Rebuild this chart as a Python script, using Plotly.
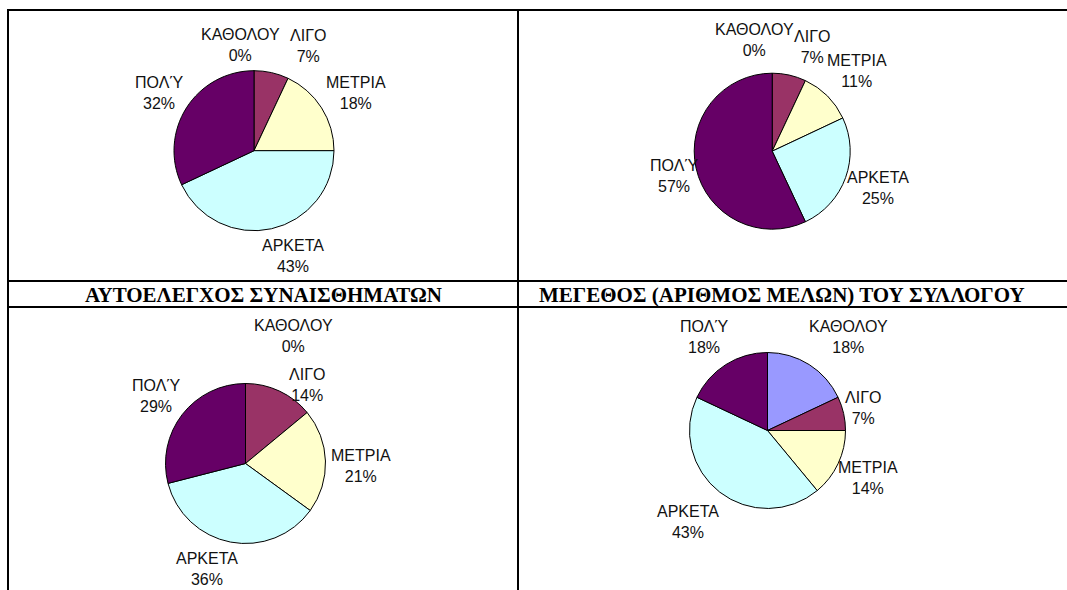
import plotly.graph_objects as go

W, H = 1067, 590

# Response categories (clockwise from 12 o'clock) and slice colours
categories = ["ΚΑΘΟΛΟΥ", "ΛΙΓΟ", "ΜΕΤΡΙΑ", "ΑΡΚΕΤΑ", "ΠΟΛΎ"]
colors = ["#9999FF", "#993366", "#FFFFCC", "#CCFFFF", "#660066"]

# Percentages for each of the four questions
values_top_left = [0, 7, 18, 43, 32]
values_top_right = [0, 7, 11, 25, 57]
values_bottom_left = [0, 14, 21, 36, 29]
values_bottom_right = [18, 7, 14, 43, 18]

# Column headings of the lower table row
heading_left = "ΑΥΤΟΕΛΕΓΧΟΣ ΣΥΝΑΙΣΘΗΜΑΤΩΝ"
heading_right = "ΜΕΓΕΘΟΣ (ΑΡΙΘΜΟΣ ΜΕΛΩΝ) ΤΟΥ ΣΥΛΛΟΓΟΥ"

# Layout of each pie: centre (px), radius (px), label centres (px) per category
pies = [
    dict(values=values_top_left, c=(254, 150.7), r=80,
         labels=[(240, 44.7), (308, 45.5), (356, 93.3), (293.3, 256), (159, 93.3)]),
    dict(values=values_top_right, c=(772.2, 151.2), r=78,
         labels=[(754.7, 40), (811.7, 47), (856.7, 71.2), (877.5, 188.3), (674.2, 176)]),
    dict(values=values_bottom_left, c=(245.5, 463.5), r=80,
         labels=[(293, 335.7), (307, 385), (361, 466), (207, 568.7), (155.5, 396.3)]),
    dict(values=values_bottom_right, c=(767.5, 430.5), r=78,
         labels=[(848.3, 336.7), (862.8, 408.3), (868.3, 478), (688.3, 522.3), (703.8, 336.7)]),
]


def px(x):
    return x / W


def py(y):
    return 1 - y / H


fig = go.Figure()
annotations = []

for p in pies:
    cx, cy = p["c"]
    r = p["r"]
    fig.add_trace(go.Pie(
        labels=categories,
        values=p["values"],
        sort=False,
        direction="clockwise",
        rotation=0,
        marker=dict(colors=colors, line=dict(color="black", width=1)),
        textinfo="none",
        hoverinfo="label+percent",
        showlegend=False,
        domain=dict(x=[px(cx - r), px(cx + r)], y=[py(cy + r), py(cy - r)]),
    ))
    for cat, val, (lx, ly) in zip(categories, p["values"], p["labels"]):
        annotations.append(dict(
            x=px(lx), y=py(ly), xref="paper", yref="paper",
            xanchor="center", yanchor="middle", showarrow=False,
            text=f"{cat}<br>{val}%",
            font=dict(family="Liberation Sans, Arial, sans-serif", size=16, color="#111111"),
        ))

# Headings of the lower row
for text, x in [(heading_left, 263), (heading_right, 782)]:
    annotations.append(dict(
        x=px(x), y=py(295), xref="paper", yref="paper",
        xanchor="center", yanchor="middle", showarrow=False,
        text=f"<b>{text}</b>",
        font=dict(family="Liberation Serif, Times New Roman, serif", size=21, color="black"),
    ))

# Table grid lines
line = dict(color="black", width=2)
shapes = [
    dict(type="line", xref="paper", yref="paper", x0=px(7), x1=px(1067), y0=py(10), y1=py(10), line=line),
    dict(type="line", xref="paper", yref="paper", x0=px(7), x1=px(1067), y0=py(281), y1=py(281), line=line),
    dict(type="line", xref="paper", yref="paper", x0=px(7), x1=px(1067), y0=py(307), y1=py(307), line=line),
    dict(type="line", xref="paper", yref="paper", x0=px(8), x1=px(8), y0=py(9), y1=py(590), line=line),
    dict(type="line", xref="paper", yref="paper", x0=px(518), x1=px(518), y0=py(9), y1=py(590), line=line),
]

fig.update_layout(
    width=W, height=H,
    margin=dict(l=0, r=0, t=0, b=0),
    paper_bgcolor="white",
    plot_bgcolor="white",
    annotations=annotations,
    shapes=shapes,
)

fig.write_html("out.html")
